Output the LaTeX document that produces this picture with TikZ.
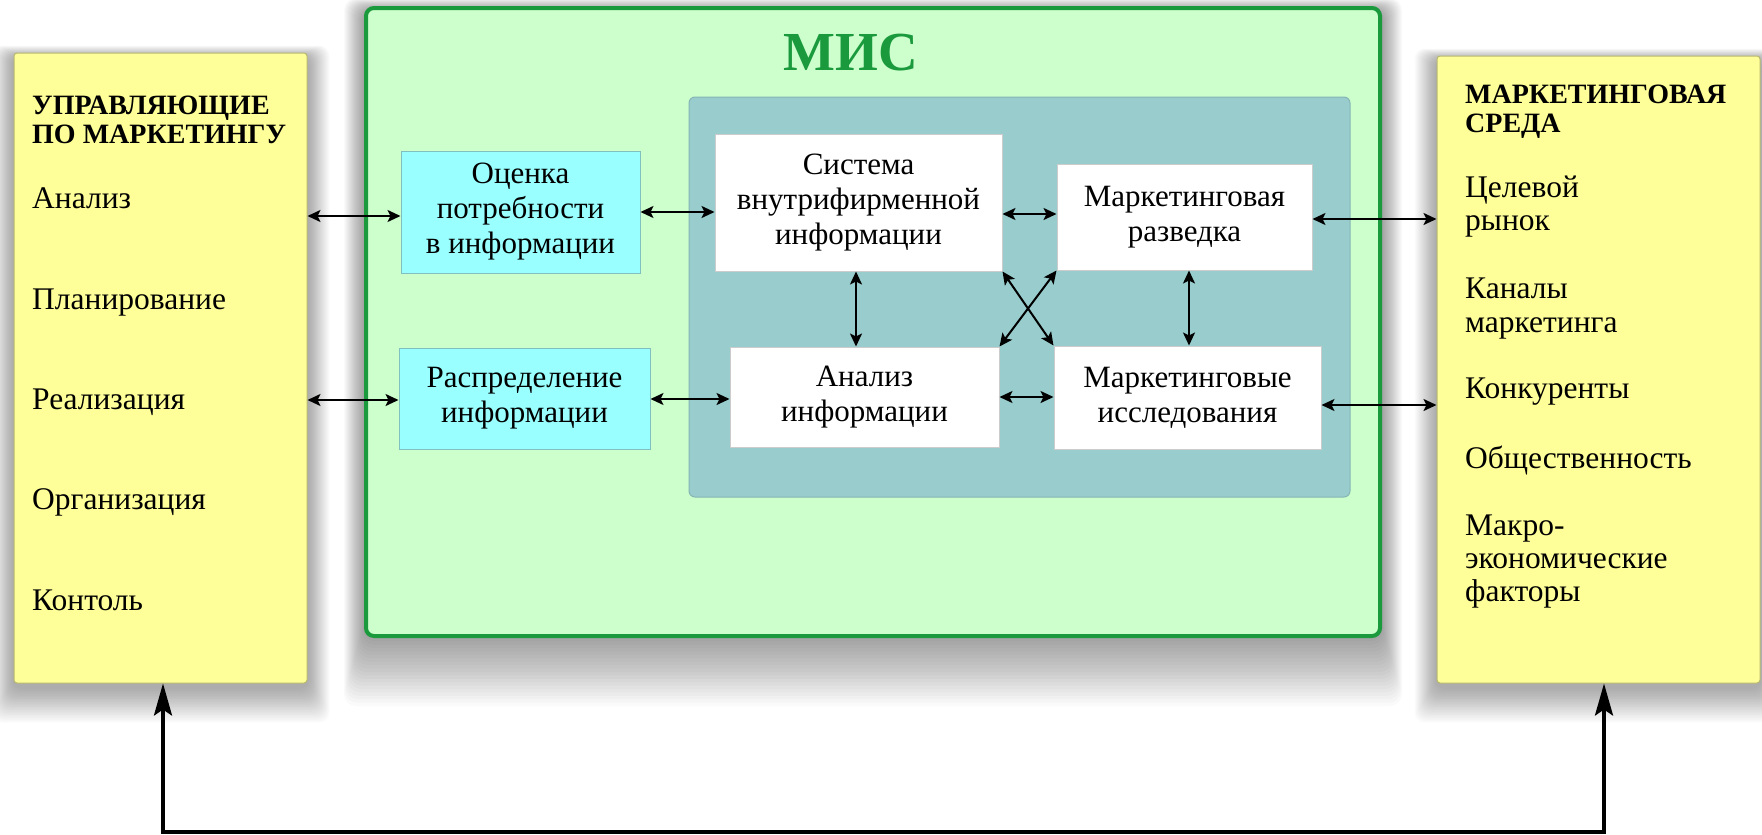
\documentclass[tikz,border=0pt]{standalone}
\usepackage{fontspec}
\setmainfont{Liberation Serif}
\usetikzlibrary{arrows.meta,backgrounds,calc}
\definecolor{yel}{HTML}{FFFF99}
\definecolor{ygborder}{HTML}{B8B870}
\definecolor{mgreen}{HTML}{CCFFCC}
\definecolor{mborder}{HTML}{1A9A3C}
\definecolor{teal1}{HTML}{99CCCC}
\definecolor{tealb}{HTML}{85B5B5}
\definecolor{cyan1}{HTML}{99FFFF}
\definecolor{cyanb}{HTML}{80C0C0}
\begin{document}
\begin{tikzpicture}[x=1pt,y=-1pt,
  panel/.style={rectangle, draw=ygborder, fill=yel, rounded corners=3pt, line width=1pt, inner sep=0},
  inbox/.style={rectangle, inner sep=0, align=center, font=\fontsize{31}{35}\selectfont},
  wbox/.style={inbox, fill=white, draw=black!20, line width=1pt},
  cbox/.style={inbox, fill=cyan1, draw=cyanb, line width=1pt},
  arr/.style={{Stealth[length=13pt,width=12pt,inset=3pt]}-{Stealth[length=13pt,width=12pt,inset=3pt]}, line width=2pt},
  big/.style={{Stealth[length=32pt,width=18pt,inset=6pt]}-{Stealth[length=32pt,width=18pt,inset=6pt]}, line width=3.5pt},
  lt/.style={anchor=base west, inner sep=0, font=\fontsize{31.5}{35}\selectfont},
  hd/.style={anchor=base west, inner sep=0, font=\bfseries\fontsize{28}{29}\selectfont}
]
\useasboundingbox (0,0) rectangle (1762,835);

% main containers
\node[panel, minimum width=293pt, minimum height=630pt] (L) at (160.5,368) {};
\node[panel, minimum width=323pt, minimum height=627pt] (R) at (1598.5,369.5) {};
\node[rectangle, draw=mborder, fill=mgreen, line width=4pt, rounded corners=8pt, minimum width=1014pt, minimum height=628pt] (M) at (873,322) {};
\node[rectangle, draw=tealb, fill=teal1, line width=1pt, rounded corners=6pt, minimum width=661pt, minimum height=400pt] (T) at (1019.5,297) {};

% background and soft shadows
\begin{pgfonlayer}{background}
\fill[white] (0,0) rectangle (1762,835);
\foreach \n in {L,R} {
  \foreach \d in {1,2,...,22} {
    \fill[black, opacity=0.016, rounded corners=10pt]
      ([xshift=-\d*1pt, yshift=\d*0.5pt-4pt]\n.north west) rectangle ([xshift=\d*1pt, yshift=-\d*1.6pt-4pt]\n.south east);
  }
}
\foreach \d in {2,4,...,40} {
  \fill[black, opacity=0.02, rounded corners=12pt]
    ([xshift=-\d*0.5pt, yshift=\d*0.3pt-4pt]M.north west) rectangle ([xshift=\d*0.5pt, yshift=-\d*1.7pt]M.south east);
}
\end{pgfonlayer}

\node[font=\bfseries\fontsize{55}{60}\selectfont, text=mborder, anchor=base, inner sep=0] (mis) at (851,70) {МИС};

% inner boxes
\node[cbox, minimum width=239pt, minimum height=122pt] (A) at (520.5,212) {Оценка\\потребности\\в информации};
\node[cbox, minimum width=251pt, minimum height=101pt] (B) at (524.5,398.5) {Распределение\\информации};
\node[wbox, minimum width=287pt, minimum height=137pt] (C) at (858.5,202.5) {Система\\внутрифирменной\\информации};
\node[wbox, minimum width=255pt, minimum height=106pt] (D) at (1184.5,217) {Маркетинговая\\разведка};
\node[wbox, minimum width=269pt, minimum height=100pt] (E) at (864.5,397) {Анализ\\информации};
\node[wbox, minimum width=267pt, minimum height=103pt] (F) at (1187.5,397.5) {Маркетинговые\\исследования};

% left panel texts
\node[hd] (lh1) at (32,114) {УПРАВЛЯЮЩИЕ};
\node[hd] (lh2) at (32,143) {ПО МАРКЕТИНГУ};
\node[lt] (l1) at (32,208) {Анализ};
\node[lt] (l2) at (32,309) {Планирование};
\node[lt] (l3) at (32,409) {Реализация};
\node[lt] (l4) at (32,509) {Организация};
\node[lt] (l5) at (32,610) {Контоль};

% right panel texts
\node[hd] (rh1) at (1465,103) {МАРКЕТИНГОВАЯ};
\node[hd] (rh2) at (1465,132) {СРЕДА};
\node[lt] (r1a) at (1465,197) {Целевой};
\node[lt] (r1b) at (1465,230) {рынок};
\node[lt] (r2a) at (1465,298) {Каналы};
\node[lt] (r2b) at (1465,332) {маркетинга};
\node[lt] (r3) at (1465,398) {Конкуренты};
\node[lt] (r4) at (1465,468) {Общественность};
\node[lt] (r5a) at (1465,535) {Макро-};
\node[lt] (r5b) at (1465,568) {экономические};
\node[lt] (r5c) at (1465,601) {факторы};

% connectors
\draw[arr] (L.east |- 0,216) -- (A.west |- 0,216);
\draw[arr] (L.east |- 0,400) -- (B.west |- 0,400);
\draw[arr] (A.east) -- (A.east -| C.west);
\draw[arr] (B.east |- 0,399) -- (E.west |- 0,399);
\draw[arr] (C.east |- 0,214) -- (D.west |- 0,214);
\draw[arr] (E.east) -- (E.east -| F.west);
\draw[arr] (C.south -| 856,0) -- (E.north -| 856,0);
\draw[arr] (D.south -| 1189,0) -- (F.north -| 1189,0);
\draw[arr] (C.south east) -- (F.north west);
\draw[arr] (E.north east) -- (D.south west);
\draw[arr] (D.east |- 0,219) -- (R.west |- 0,219);
\draw[arr] (F.east |- 0,405) -- (R.west |- 0,405);

\coordinate (fl) at (163,832);
\coordinate (fr) at (1604,832);
\draw[big] (L.south -| fl) -- (fl) -- (fr) -- (R.south -| fr);
\end{tikzpicture}
\end{document}
